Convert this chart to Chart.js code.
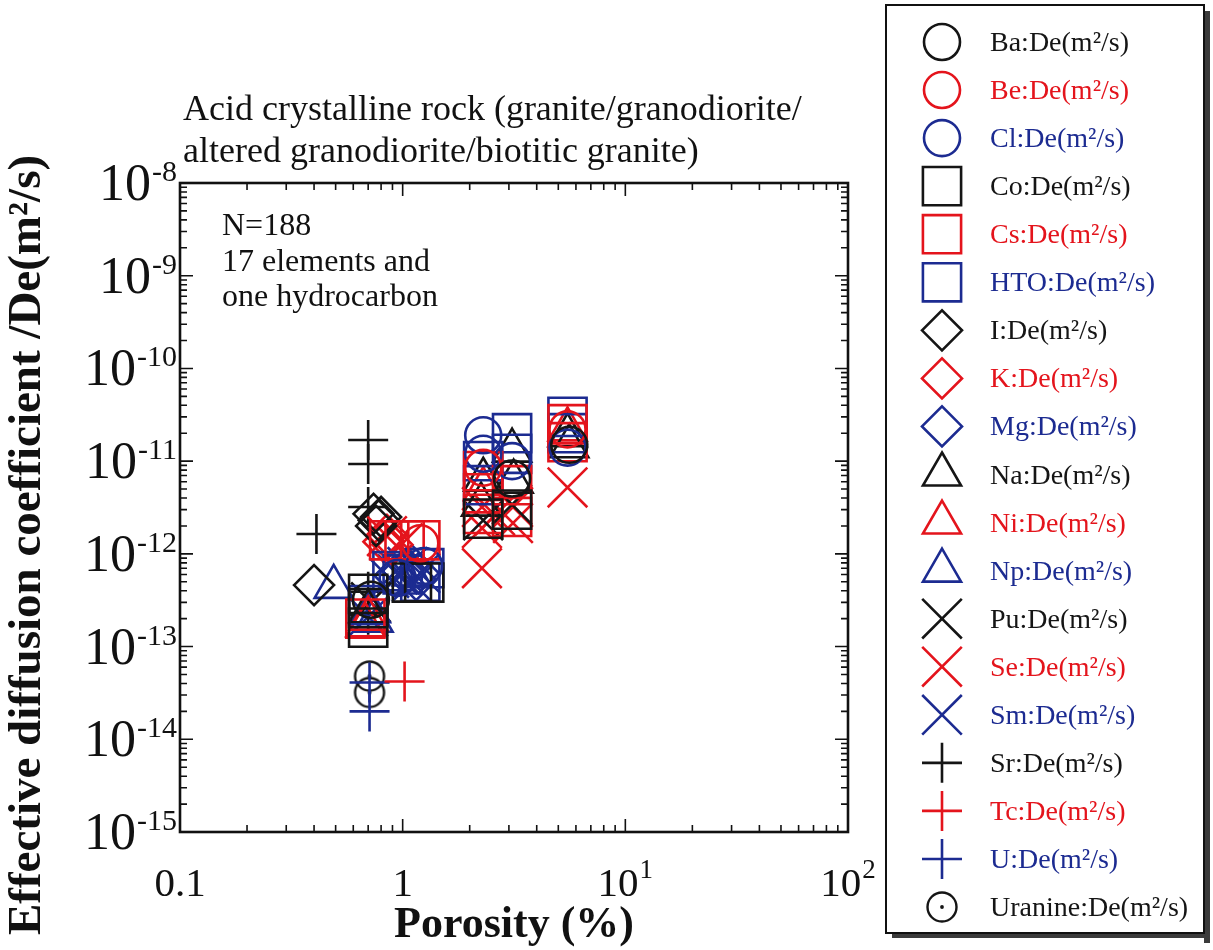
<!DOCTYPE html>
<html>
<head>
<meta charset="utf-8">
<script src="https://cdn.jsdelivr.net/npm/chart.js@4.4.1/dist/chart.umd.min.js"></script>
<style>
  html, body { margin: 0; padding: 0; background: #ffffff; }
  #wrap { position: relative; width: 1213px; height: 950px; }
</style>
</head>
<body>
<div id="wrap"><canvas id="c" width="1213" height="950"></canvas></div>
<script>
// ---- data: [porosity (%), effective diffusion coefficient De (m2/s)] ----
const ba      = [[5.6, 1.5e-11], [3.1, 6.5e-12], [0.72, 3.2e-13]];
const be      = [[2.3, 8.5e-12], [5.5, 2.2e-11], [1.2, 1.3e-12]];
const cl      = [[2.3, 1.9e-11], [2.3, 1.2e-11], [5.5, 1.4e-11], [3.1, 1.0e-11], [1.25, 7.4e-13], [0.95, 5.5e-13]];
const co      = [[0.7, 3.7e-13], [0.7, 2.6e-13], [0.7, 1.6e-13], [1.1, 4.9e-13], [1.25, 4.9e-13], [2.3, 2.4e-12], [3.1, 3.0e-12]];
const cs      = [[0.87, 1.4e-12], [1.02, 1.4e-12], [1.2, 1.4e-12], [2.3, 7.8e-12], [2.3, 4.5e-12], [2.3, 2.7e-12],
                 [3.1, 5.5e-12], [3.1, 2.5e-12], [5.5, 2.5e-11], [5.5, 1.6e-11], [0.68, 2.0e-13]];
const hto     = [[3.1, 2.0e-11], [5.5, 3.0e-11], [2.3, 1.0e-11], [3.1, 1.2e-11], [2.3, 5.5e-12], [5.5, 2.0e-11],
                 [1.0, 6.0e-13], [1.2, 5.0e-13], [1.25, 7.0e-13], [0.7, 2.8e-13], [0.9, 6.5e-13]];
const iod     = [[0.4, 4.6e-13], [0.74, 2.7e-12], [0.78, 2.3e-12], [0.76, 2.0e-12], [0.8, 2.5e-12]];
const k       = [[0.85, 1.6e-12], [0.9, 1.25e-12], [0.82, 1.35e-12]];
const mg      = [[1.0, 6.5e-13], [1.15, 5.2e-13], [1.18, 6.2e-13], [0.92, 5.8e-13], [1.1, 7.5e-13]];
const na      = [[2.3, 6.3e-12], [2.25, 3.4e-12], [3.1, 1.3e-11], [3.15, 6.0e-12], [5.5, 1.9e-11], [5.6, 1.45e-11], [0.7, 2.4e-13]];
const ni      = [[0.7, 2.0e-13], [0.68, 1.7e-13], [2.3, 5.0e-12], [5.5, 2.2e-11]];
const np      = [[0.49, 4.4e-13], [0.72, 2.4e-13], [0.74, 1.9e-13], [1.1, 6.0e-13]];
const pu      = [[2.3, 2.3e-12], [3.1, 3.4e-12], [0.72, 3.0e-13]];
const se      = [[2.27, 7.0e-13], [2.27, 1.9e-12], [2.27, 3.2e-12], [3.13, 2.15e-12], [3.13, 3.2e-12], [5.5, 5.2e-12],
                 [0.85, 1.55e-12], [1.0, 1.3e-12], [2.6, 2.6e-12]];
const sm      = [[0.95, 6.0e-13], [1.1, 5.0e-13], [1.2, 6.2e-13], [0.87, 5.5e-13], [1.05, 7.2e-13], [0.7, 2.1e-13]];
const sr      = [[0.7, 1.69e-11], [0.7, 9.3e-12], [0.7, 3.2e-12], [0.41, 1.64e-12], [0.7, 3.9e-13], [0.7, 2.2e-13]];
const tc      = [[1.02, 4.2e-14]];
const u       = [[0.71, 2.0e-14], [0.71, 4.1e-14]];
const uranine = [[0.71, 4.8e-14], [0.71, 3.2e-14]];

const seriesNames = ['Ba', 'Be', 'Cl', 'Co', 'Cs', 'HTO', 'I', 'K', 'Mg', 'Na', 'Ni', 'Np', 'Pu', 'Se', 'Sm', 'Sr', 'Tc', 'U', 'Uranine'];
const seriesData  = [ba, be, cl, co, cs, hto, iod, k, mg, na, ni, np, pu, se, sm, sr, tc, u, uranine];

// axis ranges and tick labels
const xMin = 0.1, xMax = 100;
const yMin = 1e-15, yMax = 1e-8;
const xTickValues = [0.1, 1, 10, 100];
const xTickBase   = ['0.1', '1', '10', '10'];
const xTickExp    = ['', '', '1', '2'];
const yTickExp    = [-8, -9, -10, -11, -12, -13, -14, -15];

const titleLines = ['Acid crystalline rock (granite/granodiorite/', 'altered granodiorite/biotitic granite)'];
const noteLines  = ['N=188', '17 elements and', 'one hydrocarbon'];
const xTitle = 'Porosity (%)';
const yTitle = 'Effective diffusion coefficient /De(m\u00B2/s)';

// ---- styling ----
const BLACK = '#151515', RED = '#e4141c', BLUE = '#1c2b91';
const SERIF = "'Liberation Serif', 'Times New Roman', serif";

// uranine marker: open circle with a centre dot
function makeUranineMarker() {
  const c = document.createElement('canvas');
  c.width = 36; c.height = 36;
  const g = c.getContext('2d');
  g.strokeStyle = BLACK; g.lineWidth = 2.4;
  g.beginPath(); g.arc(18, 18, 14.5, 0, Math.PI * 2); g.stroke();
  g.fillStyle = BLACK;
  g.beginPath(); g.arc(18, 18, 1.9, 0, Math.PI * 2); g.fill();
  return c;
}
const uranineMarker = makeUranineMarker();

const markerStyles = {
  Ba: ['circle', BLACK, 18], Be: ['circle', RED, 18], Cl: ['circle', BLUE, 18],
  Co: ['rect', BLACK, 27], Cs: ['rect', RED, 27], HTO: ['rect', BLUE, 27],
  I: ['rectRot', BLACK, 20], K: ['rectRot', RED, 20], Mg: ['rectRot', BLUE, 20],
  Na: ['triangle', BLACK, 22], Ni: ['triangle', RED, 22], Np: ['triangle', BLUE, 22],
  Pu: ['crossRot', BLACK, 28], Se: ['crossRot', RED, 28], Sm: ['crossRot', BLUE, 28],
  Sr: ['cross', BLACK, 20], Tc: ['cross', RED, 20], U: ['cross', BLUE, 20],
  Uranine: [uranineMarker, BLACK, 15]
};

const datasets = seriesNames.map((name, i) => {
  const [style, color, radius] = markerStyles[name];
  return {
    label: name + ':De(m\u00B2/s)',
    data: seriesData[i].map(p => ({ x: p[0], y: p[1] })),
    pointStyle: style,
    pointRadius: radius,
    pointBorderWidth: 2.6,
    borderColor: color,
    backgroundColor: 'rgba(0,0,0,0)',
    showLine: false
  };
});

// fallback marker painter (same geometry as Chart.js point styles)
function paintMarker(ctx, style, r, x, y) {
  if (Chart.helpers && Chart.helpers.drawPoint) {
    Chart.helpers.drawPoint(ctx, { pointStyle: style, radius: r, rotation: 0, borderWidth: ctx.lineWidth }, x, y);
    return;
  }
  if (typeof style !== 'string') { ctx.drawImage(style, x - style.width / 2, y - style.height / 2); return; }
  ctx.beginPath();
  const s = Math.SQRT1_2 * r;
  switch (style) {
    case 'circle': ctx.arc(x, y, r, 0, Math.PI * 2); break;
    case 'rect': ctx.rect(x - s, y - s, 2 * s, 2 * s); break;
    case 'rectRot': ctx.moveTo(x - r, y); ctx.lineTo(x, y - r); ctx.lineTo(x + r, y); ctx.lineTo(x, y + r); ctx.closePath(); break;
    case 'triangle': ctx.moveTo(x, y - r); ctx.lineTo(x + r * 0.866, y + r / 2); ctx.lineTo(x - r * 0.866, y + r / 2); ctx.closePath(); break;
    case 'cross': ctx.moveTo(x - r, y); ctx.lineTo(x + r, y); ctx.moveTo(x, y - r); ctx.lineTo(x, y + r); break;
    case 'crossRot': ctx.moveTo(x - s, y - s); ctx.lineTo(x + s, y + s); ctx.moveTo(x + s, y - s); ctx.lineTo(x - s, y + s); break;
  }
  ctx.stroke();
}

// text with a raised exponent, drawn at (x, baseline)
function drawPowerText(ctx, base, exp, x, baseline, baseSize, expSize, rise, align) {
  ctx.font = baseSize + 'px ' + SERIF;
  const wb = ctx.measureText(base).width;
  ctx.font = expSize + 'px ' + SERIF;
  const we = exp ? ctx.measureText(exp).width + 1 : 0;
  const total = wb + we;
  let left = x;
  if (align === 'center') left = x - total / 2;
  else if (align === 'right') left = x - total;
  ctx.textAlign = 'left';
  ctx.textBaseline = 'alphabetic';
  ctx.font = baseSize + 'px ' + SERIF;
  ctx.fillText(base, left, baseline);
  if (exp) {
    ctx.font = expSize + 'px ' + SERIF;
    ctx.fillText(exp, left + wb + 1, baseline - rise);
  }
}

// axis frame with inward ticks on all four sides, tick labels and titles
const frameAndLabels = {
  id: 'frameAndLabels',
  afterDatasetsDraw(chart) {
    const ctx = chart.ctx;
    const { left, right, top, bottom } = chart.chartArea;
    const xs = chart.scales.x, ys = chart.scales.y;
    ctx.save();
    ctx.strokeStyle = '#111';
    ctx.lineWidth = 1.6;
    const MAJ = 13, MIN = 7;
    ctx.beginPath();
    for (let d = -1; d <= 2; d++) {
      for (let m = 1; m <= 9; m++) {
        const v = m * Math.pow(10, d);
        if (v > xMax * 1.0001) break;
        const px = xs.getPixelForValue(v);
        const len = m === 1 ? MAJ : MIN;
        ctx.moveTo(px, bottom); ctx.lineTo(px, bottom - len);
        ctx.moveTo(px, top); ctx.lineTo(px, top + len);
      }
    }
    for (let d = -15; d <= -8; d++) {
      for (let m = 1; m <= 9; m++) {
        const v = m * Math.pow(10, d);
        if (v > yMax * 1.0001) break;
        const py = ys.getPixelForValue(v);
        const len = m === 1 ? MAJ : MIN;
        ctx.moveTo(left, py); ctx.lineTo(left + len, py);
        ctx.moveTo(right, py); ctx.lineTo(right - len, py);
      }
    }
    ctx.stroke();
    ctx.lineWidth = 2.6;
    ctx.strokeRect(left, top, right - left, bottom - top);

    ctx.fillStyle = '#111';
    // x tick labels
    xTickValues.forEach((v, i) => {
      drawPowerText(ctx, xTickBase[i], xTickExp[i], xs.getPixelForValue(v), 896, 41, 27, 18, 'center');
    });
    // y tick labels
    yTickExp.forEach(e => {
      const py = ys.getPixelForValue(Math.pow(10, e));
      drawPowerText(ctx, '10', '-' + Math.abs(e), 177, py + 17, 52, 30, 19, 'right');
    });

    // axis titles
    ctx.font = 'bold 44px ' + SERIF;
    ctx.textAlign = 'center';
    ctx.textBaseline = 'alphabetic';
    ctx.fillText(xTitle, (left + right) / 2, 937);

    ctx.save();
    ctx.translate(40, 545);
    ctx.rotate(-Math.PI / 2);
    ctx.font = 'bold 47px ' + SERIF;
    ctx.fillText(yTitle, 0, 0);
    ctx.restore();

    // heading above the plot and note inside it
    ctx.textAlign = 'left';
    ctx.font = '36px ' + SERIF;
    ctx.fillText(titleLines[0], 183, 120);
    ctx.fillText(titleLines[1], 183, 162);
    ctx.font = '32px ' + SERIF;
    ctx.fillText(noteLines[0], 222, 235);
    ctx.fillText(noteLines[1], 222, 271);
    ctx.fillText(noteLines[2], 222, 306);
    ctx.restore();
  }
};

// boxed legend at the right with a dark drop shadow
const sideLegend = {
  id: 'sideLegend',
  afterDraw(chart) {
    const ctx = chart.ctx;
    const x0 = 886, y0 = 5, x1 = 1204, y1 = 933;
    ctx.save();
    ctx.fillStyle = '#3b3b3b';
    ctx.fillRect(x1, y0 + 6, 6, y1 - y0 + 4);
    ctx.fillRect(x0 + 6, y1, x1 - x0, 5);
    ctx.strokeStyle = '#111';
    ctx.lineWidth = 2;
    ctx.strokeRect(x0, y0, x1 - x0, y1 - y0);

    const step = (907 - 42) / 18;
    chart.data.datasets.forEach((ds, i) => {
      const cy = 42 + i * step;
      ctx.strokeStyle = ds.borderColor;
      ctx.fillStyle = 'rgba(0,0,0,0)';
      ctx.lineWidth = ds.pointBorderWidth;
      paintMarker(ctx, ds.pointStyle, ds.pointRadius, 942, cy);
      ctx.fillStyle = ds.borderColor;
      ctx.font = '28px ' + SERIF;
      ctx.textAlign = 'left';
      ctx.textBaseline = 'alphabetic';
      ctx.fillText(ds.label, 990, cy + 9);
    });
    ctx.restore();
  }
};

new Chart(document.getElementById('c'), {
  type: 'scatter',
  data: { datasets },
  options: {
    responsive: false,
    animation: false,
    events: [],
    layout: { padding: { left: 180, top: 183, right: 1213 - 848, bottom: 950 - 832 } },
    plugins: { legend: { display: false }, tooltip: { enabled: false } },
    scales: {
      x: { type: 'logarithmic', min: xMin, max: xMax, display: false },
      y: { type: 'logarithmic', min: yMin, max: yMax, display: false }
    }
  },
  plugins: [frameAndLabels, sideLegend]
});
</script>
</body>
</html>
